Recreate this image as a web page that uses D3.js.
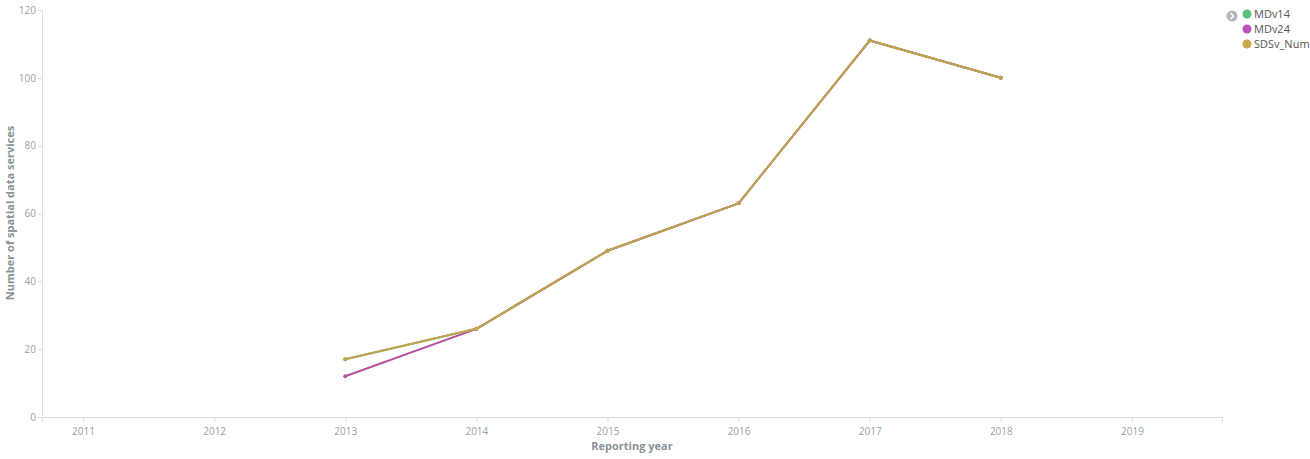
<!DOCTYPE html>
<html><head><meta charset="utf-8">
<script src="https://cdn.jsdelivr.net/npm/d3@7"></script>
<style>
body{margin:0;background:#fff;font-family:"Open Sans",sans-serif;}
</style></head>
<body><svg id="c" width="1310" height="459"></svg>
<script>
const years = [2011,2012,2013,2014,2015,2016,2017,2018,2019];
const dataYears = [2013,2014,2015,2016,2017,2018];
const MDv14 = [17,26,49,63,111,100];
const MDv24 = [12,26,49,63,111,100];
const SDSv_Num = [17,26,49,63,111,100];
const yTicks = [0,20,40,60,80,100,120];
const seriesNames = ["MDv14","MDv24","SDSv_Num"];
const seriesColors = ["#57c17b","#b4519f","#c4a24c"];
const seriesValues = [MDv14, MDv24, SDSv_Num];

const svg = d3.select("#c");
const x = d3.scaleLinear().domain([2010.687, 2019.687]).range([42, 1222]);
const y = d3.scaleLinear().domain([0,120]).range([417, 10]);

const gx = svg.append("g").attr("transform","translate(0,417)")
  .call(d3.axisBottom(x).tickValues(years).tickFormat(d3.format("d")).tickSize(5).tickSizeOuter(5));
const gy = svg.append("g").attr("transform","translate(42,0)")
  .call(d3.axisLeft(y).tickValues(yTicks).tickSize(4).tickSizeOuter(5));
[gx,gy].forEach(g=>{
  g.selectAll("path,line").attr("stroke","#dcdfe2");
  g.selectAll("text").attr("fill","#999fa5").style("font-size","10px").style("font-family","Open Sans");
});
gx.selectAll("text").attr("dy","0.95em");
gy.selectAll("text").attr("x",-6);

svg.append("text").attr("x",632).attr("y",450).attr("text-anchor","middle")
  .attr("fill","#8a9096").style("font-size","11px").style("font-weight","bold").text("Reporting year");
svg.append("text").attr("transform","translate(14,213) rotate(-90)").attr("text-anchor","middle")
  .attr("fill","#8a9096").style("font-size","11px").style("font-weight","bold").text("Number of spatial data services");

const line = d3.line().x((d,i)=>x(dataYears[i])).y(d=>y(d));
seriesValues.forEach((vals,si)=>{
  const g = svg.append("g");
  g.append("path").datum(vals).attr("d",line).attr("fill","none")
    .attr("stroke",seriesColors[si]).attr("stroke-width",2).attr("stroke-linejoin","round");
  g.selectAll("circle").data(vals).join("circle")
    .attr("cx",(d,i)=>x(dataYears[i])).attr("cy",d=>y(d)).attr("r",2).attr("fill",seriesColors[si]);
});

// legend
const lg = svg.append("g");
lg.append("circle").attr("cx",1232).attr("cy",16).attr("r",5.5).attr("fill","#b0b6bd");
lg.append("path").attr("d","M1230.5,13 L1233.5,16 L1230.5,19").attr("fill","none").attr("stroke","#fff").attr("stroke-width",1.5);
const legendColors = ["#57c17b","#bc52bc","#c9a54e"];
seriesNames.forEach((n,i)=>{
  const yy = 14 + i*15;
  lg.append("circle").attr("cx",1247).attr("cy",yy).attr("r",4.5).attr("fill",legendColors[i]);
  lg.append("text").attr("x",1254).attr("y",yy+4).attr("fill","#555").style("font-size","11px").text(n);
});
</script></body></html>
